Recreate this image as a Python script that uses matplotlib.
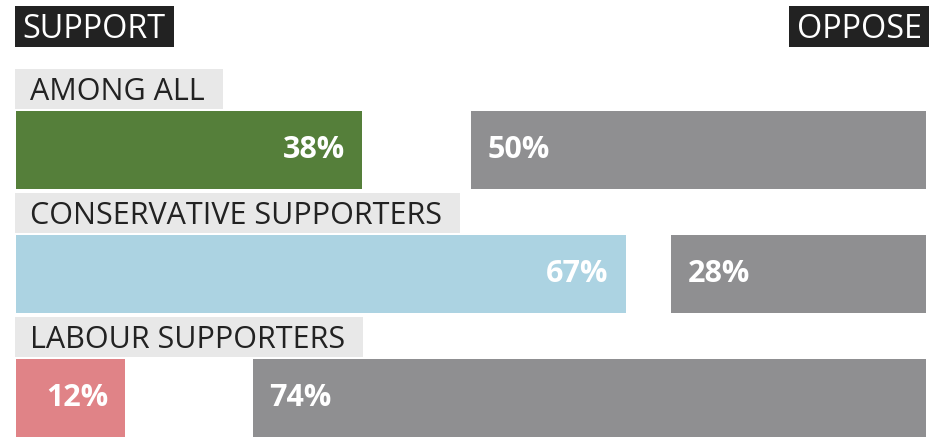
import matplotlib.pyplot as plt
from matplotlib.patches import Rectangle
from matplotlib.transforms import Affine2D

groups = ["AMONG ALL", "CONSERVATIVE SUPPORTERS", "LABOUR SUPPORTERS"]
support = [38, 67, 12]
oppose = [50, 28, 74]
support_colors = ["#557f3a", "#acd3e2", "#e08387"]
oppose_color = "#8f8f91"

plt.rcParams["font.family"] = ["Open Sans", "DejaVu Sans"]

W, H = 935, 440
fig = plt.figure(figsize=(W / 100, H / 100), dpi=100)
ax = fig.add_axes([0, 0, 1, 1])
# pixel coords measured from the top-left corner
pix = Affine2D().scale(1 / W, -1 / H).translate(0, 1) + fig.transFigure

# x: 0..100 percent mapped to 16..926 px, y: row index, 124 px per row
px_x = 910 / 100
ax.set_xlim(-16 / px_x, 100 + 9 / px_x)
row_px = 124
ax.set_ylim((H - 150) / row_px, -150 / row_px)
ax.axis("off")

rows = range(len(groups))
bar_h = 78 / row_px
ax.barh(rows, support, height=bar_h, color=support_colors, left=0)
ax.barh(rows, oppose, height=bar_h, color=oppose_color,
        left=[100 - v for v in oppose])

pad = 17 / px_x
for i in rows:
    ax.text(support[i] - pad, i, f"{support[i]}%", ha="right", va="center",
            color="white", fontsize=22, fontweight="bold")
    ax.text(100 - oppose[i] + pad, i, f"{oppose[i]}%", ha="left", va="center",
            color="white", fontsize=22, fontweight="bold")

fig.canvas.draw()
r = fig.canvas.get_renderer()


def boxed_text(s, x, base, top, bot, fc, tc, right_pad, ha="left", x_box=None, size=22):
    t = fig.text(x, base, s, transform=pix, ha=ha, va="baseline",
                 color=tc, fontsize=size, zorder=3)
    ext = t.get_window_extent(r)
    if ha == "left":
        x0, x1 = x_box, ext.x1 + right_pad
    else:
        x0, x1 = ext.x0 - right_pad, x_box
    fig.patches.append(Rectangle((x0, top), x1 - x0, bot - top, transform=pix,
                                 fc=fc, ec="none", zorder=2))


for i in rows:
    bar_top = 150 + row_px * i - 39
    boxed_text(groups[i], 30, bar_top - 11, bar_top - 42, bar_top - 2,
               "#e8e8e8", "#222222", 18, x_box=15)

boxed_text("SUPPORT", 22, 38, 6, 47, "#222222", "white", 9, x_box=15, size=23.3)
boxed_text("OPPOSE", 922, 38, 6, 47, "#222222", "white", 8, ha="right",
           x_box=929, size=23.3)

fig.savefig("out.png", dpi=100)
